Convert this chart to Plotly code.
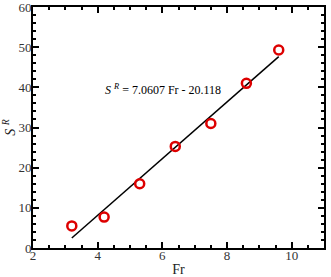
import plotly.graph_objects as go

# measured points
fr = [3.2, 4.2, 5.3, 6.4, 7.5, 8.6, 9.6]
sr = [5.5, 7.7, 16.0, 25.3, 31.0, 41.0, 49.3]

# fitted line endpoints (S^R = 7.0607 Fr - 20.118)
fit_x = [3.2, 9.6]
fit_y = [2.48, 47.66]

font = "Liberation Serif"

fig = go.Figure()
fig.add_trace(go.Scatter(x=fit_x, y=fit_y, mode="lines",
                         line=dict(color="black", width=1.5), showlegend=False))
fig.add_trace(go.Scatter(x=fr, y=sr, mode="markers",
                         marker=dict(symbol="circle-open", size=9, color="#dd0000",
                                     line=dict(width=2.5, color="#dd0000")),
                         showlegend=False))

fig.add_annotation(x=4.15, y=39.5, xanchor="left", yanchor="middle", showarrow=False,
                   text="<i>S</i> <sup><i>R</i></sup> = 7.0607 Fr - 20.118",
                   font=dict(family=font, size=12, color="black"))

axis_common = dict(showline=True, linecolor="black", linewidth=2, mirror="ticks",
                   ticks="inside", ticklen=6, tickwidth=1.5, tickcolor="black",
                   showgrid=False, zeroline=False, automargin=False,
                   ticklabeloverflow="allow",
                   tickfont=dict(family=font, size=13, color="#333"))

fig.update_xaxes(range=[2, 11], dtick=2, tick0=2, ticklabelstandoff=-6,
                 minor=dict(ticks="inside", ticklen=3, dtick=0.5, tickcolor="black"),
                 title=dict(text="Fr", font=dict(family=font, size=14, color="#222"), standoff=4),
                 **axis_common)
fig.update_yaxes(range=[0, 60], dtick=10, ticklabelstandoff=-3,
                 minor=dict(ticks="inside", ticklen=3, dtick=2, tickcolor="black"),
                 title=dict(text="<i>S</i> <sup><i>R</i></sup>",
                            font=dict(family=font, size=14, color="#222"), standoff=2),
                 **axis_common)

fig.update_layout(width=331, height=277, plot_bgcolor="white", paper_bgcolor="white",
                  margin=dict(l=33, r=7, t=7, b=29), font=dict(family=font))

fig.write_html("out.html", config={"displayModeBar": False},
               post_script="document.body.style.margin='0';")
